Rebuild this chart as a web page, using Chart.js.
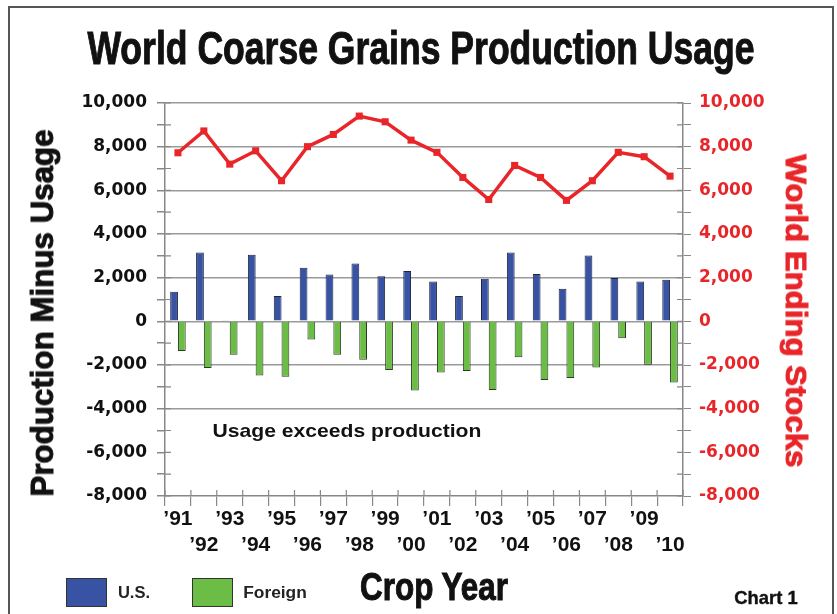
<!DOCTYPE html>
<html>
<head>
<meta charset="utf-8">
<script src="https://cdn.jsdelivr.net/npm/chart.js@4.4.1/dist/chart.umd.min.js"></script>
<style>
  html, body { margin: 0; padding: 0; background: #fff; }
  #wrap { position: relative; width: 837px; height: 614px; overflow: hidden; }
  #frame { position: absolute; left: 8px; top: 6px; width: 826px; height: 640px;
           border: 2px solid #555; box-sizing: border-box; }
  canvas { position: absolute; left: 0; top: 0; }
  .txt { position: absolute; white-space: nowrap; line-height: 1; display: inline-block;
         font-family: "Liberation Sans", Arial, sans-serif; font-weight: bold; color: #111; }
  .cond { font-family: "Liberation Sans Narrow", "Liberation Sans", Arial, sans-serif;
          -webkit-text-stroke: 1px currentColor; }
  .box { position: absolute; border: 1px solid #333; box-sizing: border-box; }
</style>
</head>
<body>
<div id="wrap">
  <div id="frame"></div>
  <canvas id="chart" width="837" height="614"></canvas>
  <div class="txt cond" id="title" style="font-size:46px">World Coarse Grains Production Usage</div>
  <div class="txt cond" id="leftTitle" style="font-size:32px">Production Minus Usage</div>
  <div class="txt cond" id="rightTitle" style="font-size:30px;color:#e8262a">World Ending Stocks</div>
  <div class="txt" id="note" style="font-size:19px">Usage exceeds production</div>
  <div class="box" style="left:66px;top:578px;width:41px;height:29px;background:#3953a4"></div>
  <div class="box" style="left:192px;top:578px;width:41px;height:29px;background:#6cbd45"></div>
  <div class="txt" id="usLabel" style="font-size:16px;color:#222">U.S.</div>
  <div class="txt" id="foreignLabel" style="font-size:16px;color:#222">Foreign</div>
  <div class="txt cond" id="cropYear" style="font-size:38px">Crop Year</div>
  <div class="txt cond" id="chartNo" style="font-size:19px;-webkit-text-stroke:0.4px #111">Chart 1</div>
</div>
<script>
// Daten
const years = ['’91', '’92', '’93', '’94', '’95', '’96', '’97', '’98', '’99', '’00',
               '’01', '’02', '’03', '’04', '’05', '’06', '’07', '’08', '’09', '’10'];
const usValues = [1350, 3150, 30, 3050, 1160, 2450, 2140, 2650, 2060, 2310,
                  1820, 1160, 1950, 3150, 2170, 1490, 3010, 1990, 1820, 1900];
const foreignValues = [-1360, -2140, -1530, -2480, -2540, -830, -1530, -1760, -2230, -3170,
                       -2340, -2280, -3140, -1640, -2690, -2590, -2110, -770, -1990, -2800];
const stocksValues = [7720, 8720, 7200, 7810, 6440, 8000, 8560, 9400, 9140, 8300,
                      7740, 6590, 5580, 7140, 6590, 5540, 6440, 7740, 7540, 6650];
const axisMin = -8000;
const axisMax = 10000;

const red = '#e8262a';
const tickFont = { family: '"DejaVu Sans", sans-serif', weight: 'bold', size: 17 };

// Text einpassen (Breite per scaleX)
const placeText = (id, cx, cy, len, rot) => {
    const el = document.getElementById(id);
    const s = len / el.offsetWidth;
    el.style.left = cx + 'px';
    el.style.top = cy + 'px';
    el.style.transform = `translate(-50%,-50%) rotate(${rot}deg) scaleX(${s})`;
};

placeText('title', 421, 48, 667, 0);
placeText('leftTitle', 42, 313, 367, -90);
placeText('rightTitle', 796, 311, 313, 90);
placeText('note', 347, 430, 269, 0);
placeText('usLabel', 134, 593, 32, 0);
placeText('foreignLabel', 275, 593, 64, 0);
placeText('cropYear', 434, 587, 148, 0);
placeText('chartNo', 766, 597, 63, 0);

// Tick-Striche, die ins Diagramm hineinragen
const innerTicks = {
    id: 'innerTicks',
    afterDraw(chart) {
        const c = chart.ctx;
        const { x, y, y1 } = chart.scales;
        c.save();
        c.strokeStyle = '#888';
        c.lineWidth = 1.2;
        c.beginPath();
        y.ticks.forEach((t) => {
            const py = y.getPixelForValue(t.value);
            c.moveTo(y.right, py); c.lineTo(y.right + 6, py);
            c.moveTo(y1.left - 6, py); c.lineTo(y1.left, py);
        });
        const n = x.ticks.length;
        for (let i = 0; i <= n; i++) {
            const px = x.left + i * (x.width / n);
            c.moveTo(px, x.top - 6); c.lineTo(px, x.top);
        }
        c.stroke();
        c.restore();
    }
};

const ctx = document.getElementById('chart').getContext('2d');

new Chart(ctx, {
    type: 'bar',
    data: {
        labels: years,
        datasets: [
            {
                type: 'line',
                label: 'World Ending Stocks',
                data: stocksValues,
                yAxisID: 'y1',
                borderColor: red,
                backgroundColor: red,
                borderWidth: 3.5,
                pointStyle: 'rect',
                pointRadius: 5,
                pointBackgroundColor: red,
                pointBorderWidth: 0,
                tension: 0,
                order: 0
            },
            {
                label: 'U.S.',
                data: usValues,
                yAxisID: 'y',
                backgroundColor: '#3953a4',
                borderColor: '#1e2540',
                borderWidth: 1,
                order: 1
            },
            {
                label: 'Foreign',
                data: foreignValues,
                yAxisID: 'y',
                backgroundColor: '#6cbd45',
                borderColor: '#2b3a22',
                borderWidth: 1,
                order: 1
            }
        ]
    },
    options: {
        responsive: false,
        animation: false,
        layout: { padding: { left: 60, right: 54, top: 103, bottom: 58 } },
        datasets: { bar: { barPercentage: 1, categoryPercentage: 0.6 } },
        plugins: {
            legend: { display: false },
            tooltip: { enabled: false },
            title: { display: false }
        },
        scales: {
            x: {
                offset: true,
                grid: { offset: true, drawOnChartArea: false, tickLength: 10, color: '#888', lineWidth: 1.2 },
                border: { color: '#888', width: 1.5 },
                ticks: {
                    autoSkip: false,
                    maxRotation: 0,
                    padding: 1,
                    color: '#111',
                    font: { family: '"Liberation Sans", Arial, sans-serif', weight: 'bold', size: 21, lineHeight: 1.2 },
                    callback: (v, i) => i % 2 === 0 ? years[i] : ['', years[i]]
                },
                afterFit: (scale) => { scale.height = 60; }
            },
            y: {
                position: 'left',
                min: axisMin,
                max: axisMax,
                grid: {
                    color: (c) => (c.tick.value % 2000 === 0 && c.tick.value >= -4000) ? '#9a9a9a' : 'rgba(0,0,0,0)',
                    tickColor: '#888',
                    lineWidth: 1.5,
                    tickLength: 8
                },
                border: { color: '#888', width: 1.5 },
                ticks: {
                    stepSize: 1000,
                    autoSkip: false,
                    padding: 10,
                    color: '#111',
                    font: tickFont,
                    callback: (v) => v % 2000 === 0 ? v.toLocaleString('en-US') : ''
                },
                afterFit: (scale) => { scale.width = 105; }
            },
            y1: {
                position: 'right',
                min: axisMin,
                max: axisMax,
                grid: { drawOnChartArea: false, tickColor: '#888', tickLength: 8 },
                border: { color: '#888', width: 1.5 },
                ticks: {
                    stepSize: 1000,
                    autoSkip: false,
                    padding: 8,
                    color: red,
                    font: tickFont,
                    callback: (v) => v % 2000 === 0 ? v.toLocaleString('en-US') : ''
                },
                afterFit: (scale) => { scale.width = 100; }
            }
        }
    },
    plugins: [innerTicks]
});
</script>
</body>
</html>
